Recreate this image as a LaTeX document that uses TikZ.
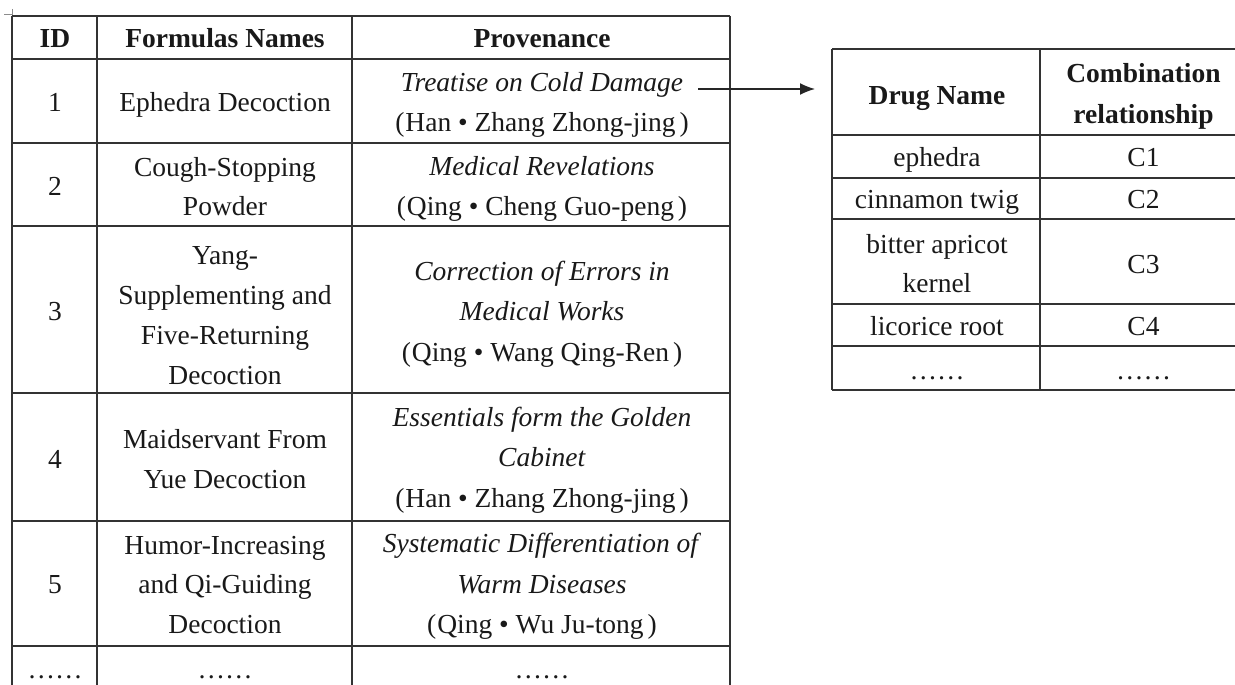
\documentclass[tikz,border=0pt]{standalone}
\usepackage{fontspec}
\setmainfont{Liberation Serif}
\usetikzlibrary{arrows.meta}
\newcommand{\cellrows}[1]{\begin{tabular}[t]{@{}c@{}}#1\end{tabular}}

\begin{document}
\begin{tikzpicture}[x=1pt, y=-1pt,
  rule/.style={line width=1.5pt, black!80},
  cell/.style={anchor=base, inner sep=0pt, text=black!90, font=\fontsize{27.5}{#1}\selectfont},
  cell/.default=41,
  head/.style={anchor=base, inner sep=0pt, text=black!90, font=\fontsize{27.5}{#1}\selectfont\bfseries},
  head/.default=41,
  link/.style={line width=1.5pt, black!85, -{Latex[length=15pt, width=12pt]}}]
\useasboundingbox (0,0) rectangle (1235,685);
\clip (0,0) rectangle (1235,685);
\draw[black!45, line width=0.6pt] (4,14) -- (12,14);
\draw[black!45, line width=0.6pt] (12,9) -- (12,16);
\draw[rule] (12,16) -- (730,16);
\draw[rule] (12,59) -- (730,59);
\draw[rule] (12,143) -- (730,143);
\draw[rule] (12,226) -- (730,226);
\draw[rule] (12,393) -- (730,393);
\draw[rule] (12,521) -- (730,521);
\draw[rule] (12,646) -- (730,646);
\draw[rule] (12,16) -- (12,700);
\draw[rule] (97,16) -- (97,700);
\draw[rule] (352,16) -- (352,700);
\draw[rule] (730,16) -- (730,700);
\node[head] (idh) at (55,48) {ID};
\node[head] (nameh) at (225,48) {Formulas Names};
\node[head] (provh) at (542,48) {Provenance};
\node[cell] (id1) at (55,111) {1};
\node[cell] (name1) at (225,111) {Ephedra Decoction};
\node[cell=39.5] (prov1) at (542,92) {\cellrows{\textit{Treatise on Cold Damage}\\(\kern1pt Han • Zhang Zhong-jing\kern4pt)}};
\node[cell] (id2) at (55,195.5) {2};
\node[cell=38.5] (name2) at (225,176.5) {\cellrows{Cough-Stopping\\Powder}};
\node[cell=40] (prov2) at (542,175) {\cellrows{\textit{Medical Revelations}\\(\kern1pt Qing • Cheng Guo-peng\kern4pt)}};
\node[cell] (id3) at (55,320) {3};
\node[cell=40] (name3) at (225,264) {\cellrows{Yang-\\Supplementing and\\Five-Returning\\Decoction}};
\node[cell=40.5] (prov3) at (542,280) {\cellrows{\textit{Correction of Errors in}\\\textit{Medical Works}\\(\kern1pt Qing • Wang Qing-Ren\kern4pt)}};
\node[cell] (id4) at (55,468) {4};
\node[cell=40.5] (name4) at (225,448) {\cellrows{Maidservant From\\Yue Decoction}};
\node[cell=40.5] (prov4) at (542,426) {\cellrows{\textit{Essentials form the Golden}\\\textit{Cabinet}\\(\kern1pt Han • Zhang Zhong-jing\kern4pt)}};
\node[cell] (id5) at (55,593) {5};
\node[cell=39.5] (name5) at (225,554) {\cellrows{Humor-Increasing\\and Qi-Guiding\\Decoction}};
\node[cell=40.5] (prov5) at (542,552.5) {\cellrows{\textit{Systematic Differentiation of}\\\textit{Warm Diseases}\\(\kern1pt Qing • Wu Ju-tong\kern4pt)}};
\node[cell] (id6) at (55,678.5) {……};
\node[cell] (name6) at (225,678.5) {……};
\node[cell] (prov6) at (542,678.5) {……};
\draw[rule] (832,49) -- (1246,49);
\draw[rule] (832,135) -- (1246,135);
\draw[rule] (832,178) -- (1246,178);
\draw[rule] (832,219) -- (1246,219);
\draw[rule] (832,304) -- (1246,304);
\draw[rule] (832,346) -- (1246,346);
\draw[rule] (832,390) -- (1246,390);
\draw[rule] (832,49) -- (832,390);
\draw[rule] (1040,49) -- (1040,390);
\draw[rule] (1246,49) -- (1246,390);
\node[head] (drugh) at (937,104) {Drug Name};
\node[head=41.5] (combh) at (1143.5,82.5) {\cellrows{Combination\\relationship}};
\node[cell] (drug1) at (937,166.5) {ephedra};
\node[cell] (comb1) at (1143.5,166.5) {C1};
\node[cell] (drug2) at (937,208.5) {cinnamon twig};
\node[cell] (comb2) at (1143.5,208.5) {C2};
\node[cell=39] (drug3) at (937,253) {\cellrows{bitter apricot\\kernel}};
\node[cell] (comb3) at (1143.5,273) {C3};
\node[cell] (drug4) at (937,335) {licorice root};
\node[cell] (comb4) at (1143.5,335) {C4};
\node[cell] (drug5) at (937,379) {……};
\node[cell] (comb5) at (1143.5,379) {……};
\coordinate (cold) at (698,89);
\coordinate (drugs) at (815,89);
\draw[link] (cold) -- (drugs);
\end{tikzpicture}
\end{document}
